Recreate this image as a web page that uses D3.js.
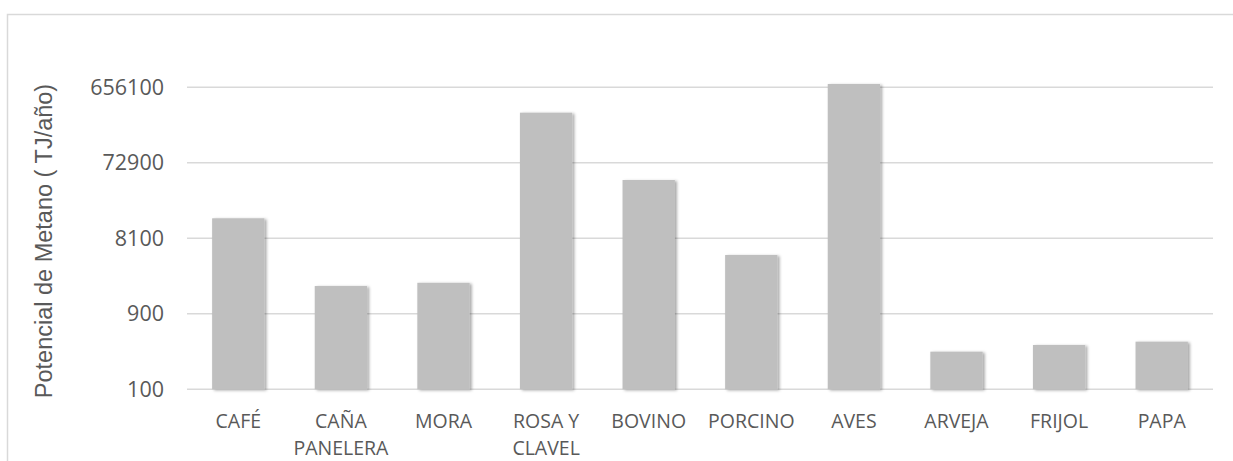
<!DOCTYPE html>
<meta charset="utf-8">
<style>
    body { margin: 0; background: #fff; }
    .grid line { stroke: #d9d9d9; stroke-width: 1.5px; }
    .tick text { fill: #595959; }
    .bar { fill: #bfbfbf; }
</style>
<body></body>
<script src="https://d3js.org/d3.v7.min.js"></script>
<script>
    // data (log scale, base 9)
    const categories = ["CAFÉ", "CAÑA PANELERA", "MORA", "ROSA Y CLAVEL", "BOVINO",
                        "PORCINO", "AVES", "ARVEJA", "FRIJOL", "PAPA"];
    const values = [14500, 2020, 2220, 313500, 44200, 4980, 722500, 299, 363, 400];
    const yTicks = [100, 900, 8100, 72900, 656100];
    const yTitle = "Potencial de Metano ( TJ/año)";

    const W = 1233, H = 461;
    const plot = {left: 187, right: 1213, top: 87.3, bottom: 389.3};

    const svg = d3.select("body").append("svg")
        .attr("width", W)
        .attr("height", H);

    // soft shadow like the office chart
    const f = svg.append("defs").append("filter")
        .attr("id", "shadow")
        .attr("x", "-20%").attr("y", "-20%")
        .attr("width", "140%").attr("height", "140%");
    f.append("feDropShadow")
        .attr("dx", 2).attr("dy", 1)
        .attr("stdDeviation", 1.6)
        .attr("flood-color", "#000")
        .attr("flood-opacity", 0.35);

    // chart frame
    svg.append("rect")
        .attr("x", 7.5).attr("y", 14.5)
        .attr("width", W + 10).attr("height", H + 10)
        .attr("fill", "none")
        .attr("stroke", "#d9d9d9")
        .attr("stroke-width", 1.5);

    let x = d3.scaleBand()
        .domain(categories)
        .range([plot.left, plot.right])
        .paddingInner(0.49)
        .paddingOuter(0.245);

    let y = d3.scaleLog().base(9)
        .domain([100, 656100])
        .range([plot.bottom, plot.top]);

    // gridlines
    svg.append("g")
        .attr("class", "grid")
        .selectAll("line")
        .data(yTicks).enter()
        .append("line")
        .attr("x1", plot.left).attr("x2", plot.right)
        .attr("y1", d => y(d)).attr("y2", d => y(d));

    // bars
    svg.append("g")
        .selectAll("rect")
        .data(values).enter()
        .append("rect")
        .attr("class", "bar")
        .attr("filter", "url(#shadow)")
        .attr("x", (d, i) => x(categories[i]))
        .attr("width", x.bandwidth())
        .attr("y", d => y(d))
        .attr("height", d => plot.bottom - y(d));

    // y axis
    let yAxis = svg.append("g")
        .attr("transform", "translate(" + (plot.left - 3) + ",0)")
        .call(d3.axisLeft(y).tickValues(yTicks).tickFormat(d3.format("d")).tickSize(0).tickPadding(20));
    yAxis.select(".domain").remove();
    yAxis.selectAll("text")
        .style("font-family", "'Open Sans', sans-serif")
        .style("font-size", "21.5px");

    // x axis
    let xAxis = svg.append("g")
        .attr("transform", "translate(0," + plot.bottom + ")")
        .call(d3.axisBottom(x).tickSize(0).tickPadding(0));
    xAxis.select(".domain").remove();
    xAxis.selectAll("text")
        .style("font-family", "'Open Sans', sans-serif")
        .style("font-size", "19.5px")
        .attr("y", 0)
        .attr("dy", 0)
        .each(function(d) {
            const t = d3.select(this);
            const words = d.split(" ");
            let lines = [words[0]];
            for (let k = 1; k < words.length; k++) {
                t.text(lines[lines.length - 1] + " " + words[k]);
                if (this.getComputedTextLength() > 80) lines.push(words[k]);
                else lines[lines.length - 1] += " " + words[k];
            }
            t.text(null);
            lines.forEach((ln, j) => {
                t.append("tspan")
                    .attr("x", 0)
                    .attr("y", 39 + j * 27)
                    .text(ln);
            });
        });

    // y title
    svg.append("text")
        .attr("transform", "translate(52,241) rotate(-90)")
        .attr("text-anchor", "middle")
        .style("font-family", "'Liberation Sans', Arial, sans-serif")
        .style("font-size", "23.5px")
        .attr("fill", "#595959")
        .text(yTitle);
</script>
